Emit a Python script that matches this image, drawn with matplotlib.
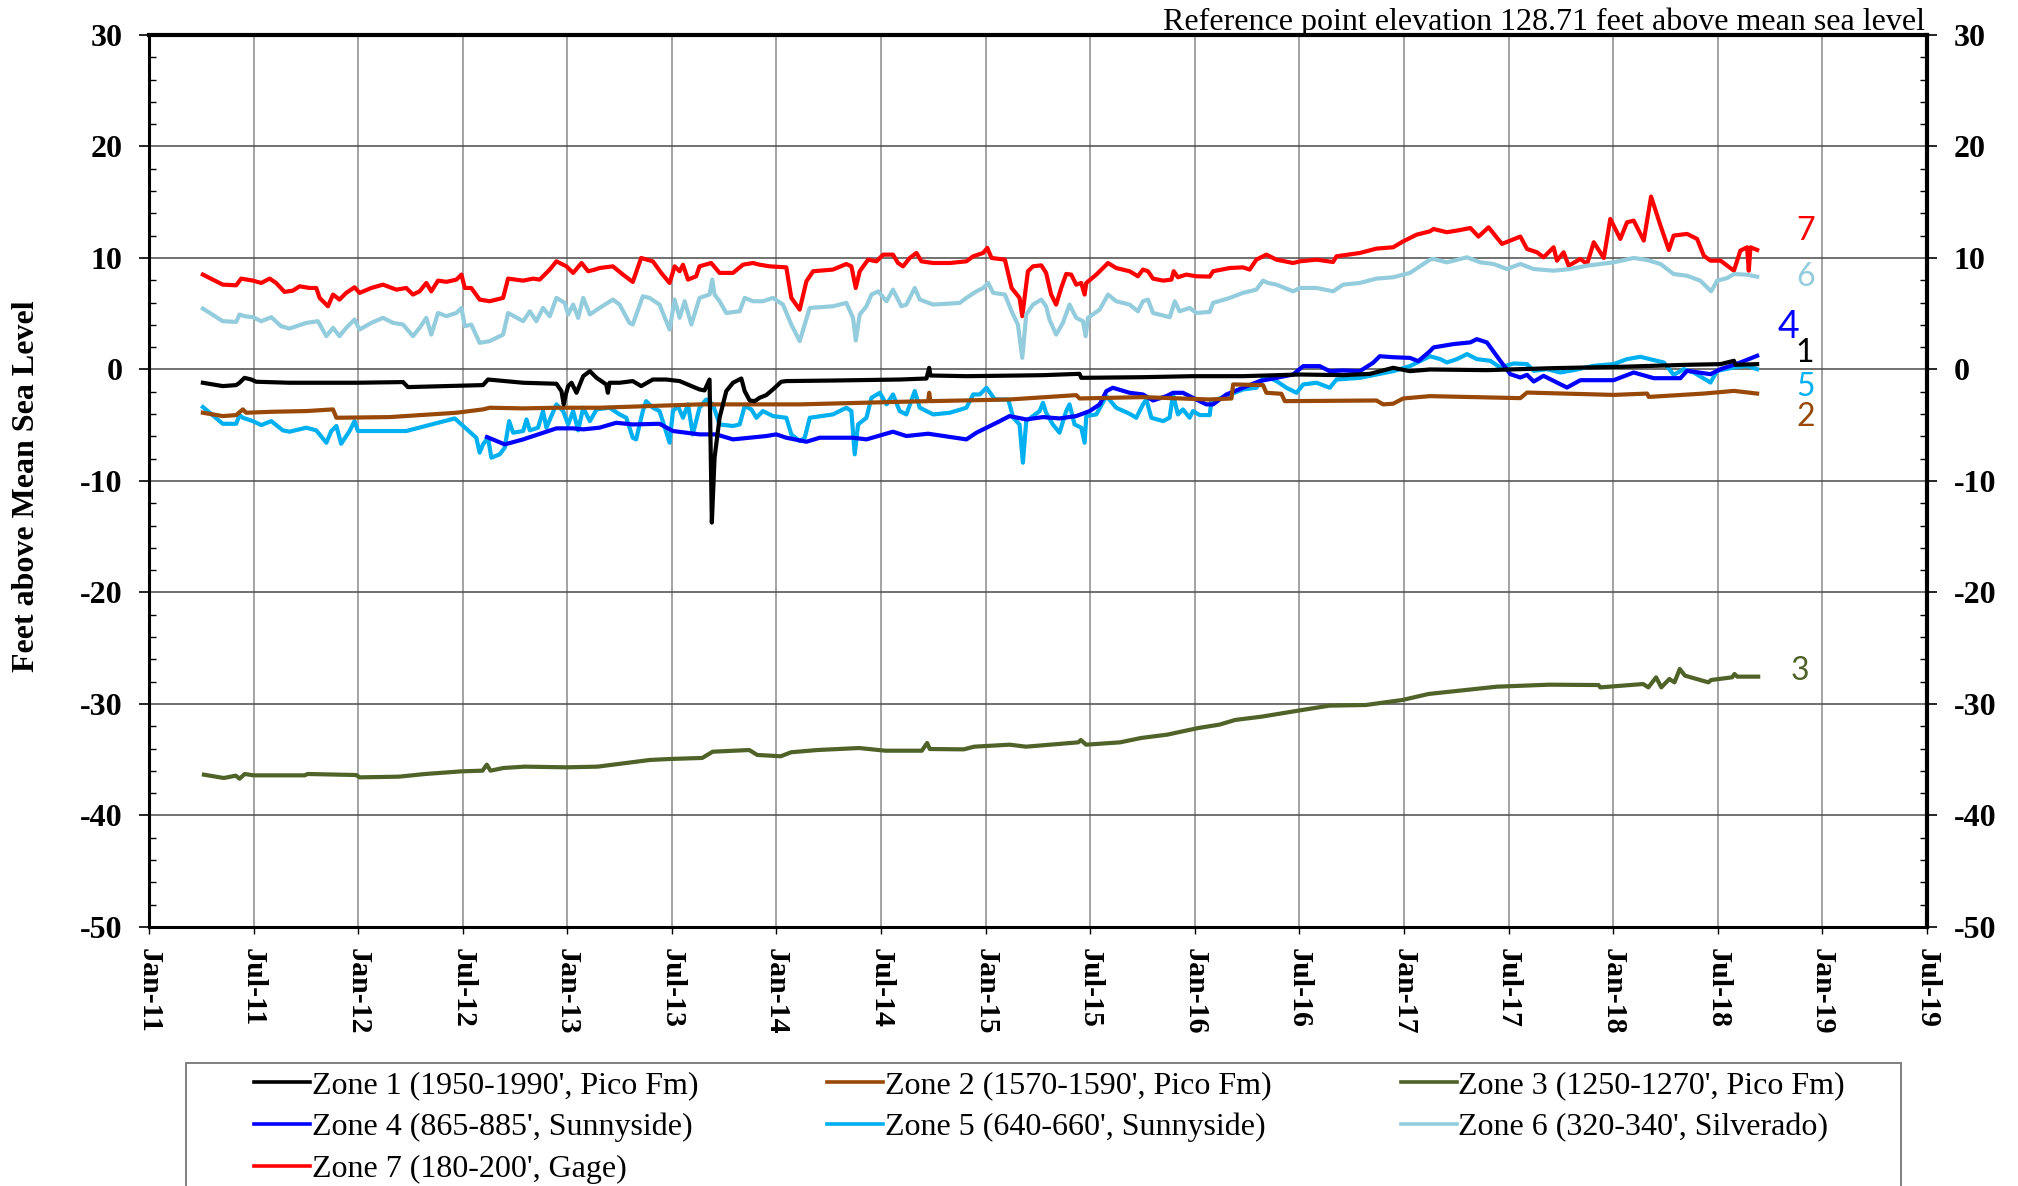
import numpy as np
import matplotlib
matplotlib.use("Agg")
import matplotlib.pyplot as plt
from matplotlib.patches import Rectangle
from matplotlib.ticker import MultipleLocator

plt.rcParams["axes.unicode_minus"] = False

# water level records for the seven monitored zones, time in decimal years
t1 = [2011.258, 2011.353, 2011.417, 2011.433, 2011.457, 2011.489, 2011.513, 2011.672, 2011.991, 2012.215,
      2012.238, 2012.597, 2012.621, 2012.789, 2012.948, 2012.972, 2012.983, 2012.993, 2013.004, 2013.020,
      2013.044, 2013.076, 2013.108, 2013.140, 2013.186, 2013.194, 2013.202, 2013.250, 2013.313, 2013.353,
      2013.409, 2013.473, 2013.537, 2013.632, 2013.656, 2013.680, 2013.691, 2013.704, 2013.728, 2013.760,
      2013.792, 2013.832, 2013.848, 2013.872, 2013.896, 2013.919, 2013.951, 2013.983, 2014.023, 2014.047,
      2014.270, 2014.589, 2014.717, 2014.730, 2014.736, 2014.908, 2015.163, 2015.274, 2015.449, 2015.457,
      2015.752, 2015.991, 2016.230, 2016.502, 2016.709, 2016.837, 2016.948, 2017.028, 2017.124, 2017.396,
      2017.715, 2018.034, 2018.353, 2018.513, 2018.577, 2018.585, 2018.688]
z1 = [-1.19, -1.49, -1.40, -1.19, -0.75, -0.90, -1.10, -1.19, -1.19, -1.13,
      -1.58, -1.40, -0.90, -1.19, -1.28, -1.94, -3.13, -2.24, -1.49, -1.19,
      -2.09, -0.60, -0.15, -0.75, -1.34, -2.09, -1.19, -1.19, -1.04, -1.49,
      -0.90, -0.90, -1.04, -1.79, -1.88, -0.90, -13.73, -7.91, -4.33, -1.94,
      -1.19, -0.81, -1.94, -2.78, -2.84, -2.54, -2.30, -1.79, -1.10, -1.04,
      -0.99, -0.90, -0.81, 0.15, -0.54, -0.60, -0.54, -0.51, -0.39, -0.75,
      -0.69, -0.60, -0.60, -0.45, -0.51, -0.39, 0.15, -0.15, 0.00, -0.06,
      0.12, 0.24, 0.42, 0.48, 0.78, 0.42, 0.48]

t2 = [2011.258, 2011.353, 2011.417, 2011.449, 2011.465, 2011.593, 2011.752, 2011.880, 2011.896, 2012.151,
      2012.470, 2012.597, 2012.629, 2012.789, 2012.948, 2013.154, 2013.632, 2014.111, 2014.589, 2014.725,
      2014.730, 2014.736, 2015.114, 2015.433, 2015.449, 2015.752, 2016.071, 2016.175, 2016.183, 2016.326,
      2016.342, 2016.414, 2016.430, 2016.868, 2016.900, 2016.948, 2016.996, 2017.124, 2017.556, 2017.588,
      2018.002, 2018.162, 2018.170, 2018.433, 2018.577, 2018.688]
z2 = [-3.88, -4.18, -4.09, -3.58, -3.88, -3.79, -3.73, -3.58, -4.33, -4.27,
      -3.88, -3.58, -3.43, -3.49, -3.43, -3.43, -3.13, -3.13, -2.90, -2.84,
      -2.09, -2.84, -2.69, -2.30, -2.60, -2.48, -2.69, -2.60, -1.34, -1.40,
      -2.09, -2.18, -2.84, -2.78, -3.13, -3.07, -2.60, -2.39, -2.57, -2.07,
      -2.28, -2.16, -2.46, -2.16, -1.92, -2.16]

t3 = [2011.263, 2011.358, 2011.415, 2011.433, 2011.458, 2011.500, 2011.745, 2011.758, 2011.990, 2012.008,
      2012.195, 2012.320, 2012.495, 2012.595, 2012.615, 2012.633, 2012.695, 2012.795, 2012.995, 2013.145,
      2013.270, 2013.395, 2013.495, 2013.645, 2013.695, 2013.870, 2013.908, 2014.020, 2014.070, 2014.195,
      2014.395, 2014.520, 2014.695, 2014.720, 2014.733, 2014.895, 2014.945, 2015.115, 2015.193, 2015.443,
      2015.455, 2015.480, 2015.643, 2015.743, 2015.868, 2016.018, 2016.118, 2016.193, 2016.318, 2016.493,
      2016.643, 2016.818, 2016.993, 2017.118, 2017.268, 2017.443, 2017.693, 2017.930, 2017.938, 2018.143,
      2018.168, 2018.205, 2018.230, 2018.268, 2018.293, 2018.318, 2018.343, 2018.455, 2018.468, 2018.568,
      2018.580, 2018.593, 2018.693]
z3 = [-36.34, -36.64, -36.43, -36.70, -36.28, -36.40, -36.40, -36.28, -36.37, -36.58,
      -36.52, -36.28, -36.04, -35.98, -35.44, -35.98, -35.74, -35.62, -35.68, -35.62,
      -35.32, -35.02, -34.93, -34.84, -34.28, -34.13, -34.57, -34.69, -34.33, -34.13,
      -33.95, -34.19, -34.19, -33.50, -34.04, -34.07, -33.83, -33.65, -33.83, -33.44,
      -33.23, -33.65, -33.44, -33.05, -32.75, -32.15, -31.85, -31.43, -31.14, -30.60,
      -30.15, -30.09, -29.64, -29.10, -28.80, -28.45, -28.27, -28.30, -28.51, -28.21,
      -28.51, -27.61, -28.51, -27.76, -28.06, -26.86, -27.46, -28.06, -27.85, -27.61,
      -27.31, -27.55, -27.55]

t4 = [2012.616, 2012.701, 2012.789, 2012.948, 2013.028, 2013.076, 2013.154, 2013.234, 2013.313, 2013.441,
      2013.505, 2013.632, 2013.712, 2013.792, 2013.951, 2013.999, 2014.047, 2014.143, 2014.207, 2014.366,
      2014.430, 2014.557, 2014.621, 2014.725, 2014.908, 2014.956, 2015.068, 2015.114, 2015.194, 2015.274,
      2015.353, 2015.433, 2015.497, 2015.545, 2015.577, 2015.608, 2015.688, 2015.752, 2015.800, 2015.864,
      2015.896, 2015.943, 2015.991, 2016.023, 2016.055, 2016.087, 2016.151, 2016.230, 2016.310, 2016.390,
      2016.470, 2016.518, 2016.597, 2016.645, 2016.709, 2016.789, 2016.852, 2016.884, 2016.948, 2017.028,
      2017.068, 2017.124, 2017.141, 2017.237, 2017.317, 2017.348, 2017.396, 2017.460, 2017.508, 2017.556,
      2017.588, 2017.620, 2017.667, 2017.715, 2017.779, 2017.843, 2018.002, 2018.098, 2018.194, 2018.321,
      2018.353, 2018.465, 2018.513, 2018.608, 2018.688]
z4 = [-6.06, -6.72, -6.27, -5.28, -5.28, -5.37, -5.22, -4.78, -4.93, -4.87,
      -5.52, -5.82, -5.82, -6.27, -5.97, -5.82, -6.12, -6.48, -6.12, -6.12,
      -6.27, -5.58, -5.97, -5.76, -6.27, -5.67, -4.63, -4.18, -4.48, -4.27,
      -4.39, -4.18, -3.73, -3.13, -1.94, -1.64, -2.09, -2.24, -2.78, -2.39,
      -2.09, -2.09, -2.54, -2.84, -3.13, -3.13, -2.24, -1.64, -1.04, -0.75,
      -0.45, 0.30, 0.30, -0.15, -0.09, -0.15, 0.60, 1.19, 1.10, 1.04,
      0.75, 1.64, 1.98, 2.28, 2.43, 2.72, 2.43, 0.78, -0.42, -0.72,
      -0.48, -1.08, -0.57, -1.02, -1.62, -0.96, -0.96, -0.27, -0.78, -0.78,
      -0.12, -0.42, 0.03, 0.63, 1.23]

t5 = [2011.258, 2011.353, 2011.417, 2011.433, 2011.449, 2011.497, 2011.537, 2011.585, 2011.640, 2011.672,
      2011.752, 2011.800, 2011.848, 2011.872, 2011.896, 2011.919, 2011.959, 2011.983, 2011.999, 2012.230,
      2012.462, 2012.565, 2012.581, 2012.597, 2012.621, 2012.637, 2012.677, 2012.701, 2012.722, 2012.741,
      2012.789, 2012.805, 2012.821, 2012.860, 2012.884, 2012.900, 2012.948, 2012.980, 2013.004, 2013.028,
      2013.052, 2013.076, 2013.108, 2013.140, 2013.202, 2013.250, 2013.282, 2013.313, 2013.329, 2013.361,
      2013.377, 2013.409, 2013.441, 2013.489, 2013.505, 2013.529, 2013.553, 2013.577, 2013.600, 2013.632,
      2013.664, 2013.696, 2013.728, 2013.792, 2013.824, 2013.848, 2013.880, 2013.904, 2013.935, 2013.983,
      2014.047, 2014.071, 2014.111, 2014.135, 2014.159, 2014.270, 2014.334, 2014.358, 2014.374, 2014.390,
      2014.430, 2014.454, 2014.494, 2014.526, 2014.557, 2014.589, 2014.621, 2014.661, 2014.685, 2014.749,
      2014.829, 2014.908, 2014.940, 2014.972, 2015.004, 2015.044, 2015.108, 2015.132, 2015.162, 2015.178,
      2015.194, 2015.258, 2015.274, 2015.289, 2015.321, 2015.353, 2015.385, 2015.401, 2015.425, 2015.457,
      2015.473, 2015.481, 2015.529, 2015.577, 2015.624, 2015.688, 2015.720, 2015.752, 2015.768, 2015.792,
      2015.848, 2015.879, 2015.896, 2015.919, 2015.943, 2015.975, 2015.991, 2016.023, 2016.071, 2016.079,
      2016.151, 2016.230, 2016.294, 2016.326, 2016.358, 2016.390, 2016.438, 2016.486, 2016.518, 2016.582,
      2016.645, 2016.677, 2016.789, 2016.868, 2016.948, 2017.028, 2017.124, 2017.173, 2017.205, 2017.253,
      2017.301, 2017.348, 2017.412, 2017.460, 2017.524, 2017.588, 2017.620, 2017.683, 2017.747, 2017.811,
      2017.907, 2018.002, 2018.066, 2018.130, 2018.194, 2018.242, 2018.289, 2018.337, 2018.385, 2018.465,
      2018.497, 2018.577, 2018.640, 2018.688]
z5 = [-3.37, -4.87, -4.87, -4.09, -4.33, -4.63, -4.99, -4.63, -5.46, -5.58,
      -5.22, -5.46, -6.57, -5.52, -5.07, -6.66, -5.52, -4.63, -5.52, -5.52,
      -4.39, -6.12, -7.46, -6.72, -6.12, -7.91, -7.61, -7.01, -4.63, -5.67,
      -5.52, -4.48, -5.46, -5.22, -3.73, -5.22, -3.13, -3.73, -4.93, -3.73,
      -5.46, -3.43, -4.63, -3.58, -3.43, -4.03, -4.33, -6.12, -6.27, -3.73,
      -2.84, -3.43, -3.73, -6.57, -3.73, -3.28, -4.33, -3.13, -5.82, -3.43,
      -2.69, -3.13, -4.93, -5.07, -4.93, -3.28, -3.58, -4.33, -3.73, -4.18,
      -4.33, -5.82, -6.42, -6.12, -4.33, -4.03, -3.43, -3.73, -7.61, -4.93,
      -4.33, -2.54, -2.09, -3.13, -2.24, -3.73, -4.03, -1.94, -3.43, -4.03,
      -3.88, -3.43, -2.24, -2.24, -1.64, -2.69, -2.69, -4.33, -4.93, -8.36,
      -4.63, -3.73, -2.99, -3.88, -4.93, -5.67, -3.73, -3.13, -4.93, -5.22,
      -6.57, -4.18, -4.03, -2.39, -3.43, -3.97, -4.33, -3.13, -2.69, -4.33,
      -4.63, -4.33, -2.24, -4.03, -3.58, -4.33, -3.73, -4.09, -4.09, -2.84,
      -2.39, -1.79, -1.64, -0.75, -0.75, -1.04, -1.64, -2.09, -1.34, -1.19,
      -1.64, -0.90, -0.75, -0.45, -0.15, 0.30, 1.19, 0.93, 0.63, 0.93,
      1.38, 0.93, 0.78, 0.18, 0.54, 0.48, -0.12, 0.03, -0.27, -0.06,
      0.33, 0.48, 0.93, 1.14, 0.84, 0.63, -0.48, 0.03, -0.27, -1.17,
      -0.12, 0.18, 0.33, 0.03]

t6 = [2011.258, 2011.353, 2011.417, 2011.433, 2011.457, 2011.497, 2011.537, 2011.585, 2011.632, 2011.672,
      2011.752, 2011.808, 2011.848, 2011.880, 2011.911, 2011.943, 2011.983, 2012.007, 2012.063, 2012.119,
      2012.167, 2012.215, 2012.262, 2012.294, 2012.326, 2012.350, 2012.382, 2012.422, 2012.470, 2012.494,
      2012.510, 2012.541, 2012.581, 2012.629, 2012.693, 2012.717, 2012.789, 2012.821, 2012.852, 2012.884,
      2012.916, 2012.948, 2012.988, 2013.004, 2013.028, 2013.052, 2013.076, 2013.108, 2013.154, 2013.218,
      2013.250, 2013.297, 2013.313, 2013.361, 2013.393, 2013.441, 2013.489, 2013.513, 2013.537, 2013.561,
      2013.593, 2013.632, 2013.680, 2013.693, 2013.704, 2013.728, 2013.760, 2013.824, 2013.848, 2013.888,
      2013.935, 2013.983, 2014.031, 2014.071, 2014.111, 2014.135, 2014.159, 2014.270, 2014.334, 2014.366,
      2014.379, 2014.398, 2014.430, 2014.454, 2014.486, 2014.526, 2014.557, 2014.597, 2014.621, 2014.661,
      2014.685, 2014.749, 2014.876, 2014.908, 2014.956, 2014.988, 2015.012, 2015.036, 2015.092, 2015.124,
      2015.154, 2015.175, 2015.194, 2015.226, 2015.266, 2015.289, 2015.305, 2015.337, 2015.369, 2015.401,
      2015.433, 2015.465, 2015.478, 2015.489, 2015.545, 2015.585, 2015.624, 2015.688, 2015.728, 2015.752,
      2015.776, 2015.800, 2015.880, 2015.904, 2015.927, 2015.975, 2016.007, 2016.071, 2016.087, 2016.167,
      2016.230, 2016.294, 2016.326, 2016.350, 2016.390, 2016.470, 2016.502, 2016.582, 2016.661, 2016.709,
      2016.789, 2016.868, 2016.948, 2017.028, 2017.076, 2017.124, 2017.141, 2017.205, 2017.301, 2017.364,
      2017.428, 2017.492, 2017.556, 2017.620, 2017.715, 2017.795, 2017.875, 2018.002, 2018.098, 2018.162,
      2018.226, 2018.289, 2018.353, 2018.417, 2018.468, 2018.497, 2018.545, 2018.577, 2018.640, 2018.688]
z6 = [5.46, 4.33, 4.27, 4.93, 4.78, 4.69, 4.33, 4.69, 3.88, 3.67,
      4.18, 4.33, 2.99, 3.73, 2.99, 3.73, 4.48, 3.58, 4.18, 4.63,
      4.18, 4.03, 2.99, 3.73, 4.63, 3.13, 5.07, 4.78, 5.07, 5.52,
      3.88, 4.03, 2.39, 2.54, 3.13, 5.07, 4.33, 5.22, 4.33, 5.52,
      4.78, 6.42, 5.97, 4.93, 5.82, 4.63, 6.42, 4.93, 5.52, 6.27,
      5.82, 4.18, 4.03, 6.57, 6.42, 5.82, 3.58, 6.27, 4.63, 6.12,
      4.03, 6.42, 6.72, 8.06, 6.72, 6.12, 5.07, 5.22, 6.42, 6.12,
      6.12, 6.42, 5.82, 4.03, 2.54, 4.03, 5.52, 5.67, 5.97, 4.63,
      2.60, 4.93, 5.67, 6.72, 7.01, 6.12, 7.16, 5.67, 5.82, 7.31,
      6.27, 5.82, 5.97, 6.42, 7.01, 7.31, 7.76, 6.87, 6.72, 5.22,
      4.03, 1.04, 4.93, 5.82, 6.27, 5.67, 4.48, 3.13, 4.18, 5.82,
      4.63, 4.33, 2.99, 4.63, 5.37, 6.72, 6.12, 5.82, 5.22, 6.12,
      6.27, 5.07, 4.69, 6.12, 5.22, 5.52, 5.07, 5.16, 5.97, 6.42,
      6.87, 7.16, 7.97, 7.76, 7.61, 7.01, 7.31, 7.31, 7.01, 7.61,
      7.76, 8.15, 8.27, 8.66, 9.25, 9.85, 9.91, 9.61, 10.06, 9.61,
      9.46, 9.01, 9.46, 9.01, 8.86, 9.01, 9.31, 9.61, 10.00, 9.82,
      9.46, 8.56, 8.41, 7.96, 7.01, 7.96, 8.20, 8.56, 8.50, 8.32]

t7 = [2011.258, 2011.353, 2011.417, 2011.441, 2011.497, 2011.537, 2011.577, 2011.608, 2011.648, 2011.688,
      2011.720, 2011.768, 2011.800, 2011.816, 2011.856, 2011.880, 2011.911, 2011.943, 2011.983, 2012.007,
      2012.063, 2012.119, 2012.183, 2012.230, 2012.262, 2012.294, 2012.326, 2012.350, 2012.382, 2012.422,
      2012.470, 2012.494, 2012.510, 2012.541, 2012.581, 2012.629, 2012.693, 2012.717, 2012.789, 2012.837,
      2012.868, 2012.916, 2012.948, 2012.996, 2013.028, 2013.068, 2013.100, 2013.132, 2013.154, 2013.218,
      2013.266, 2013.313, 2013.353, 2013.409, 2013.449, 2013.489, 2013.513, 2013.537, 2013.553, 2013.577,
      2013.616, 2013.632, 2013.688, 2013.728, 2013.792, 2013.840, 2013.888, 2013.919, 2013.967, 2014.047,
      2014.071, 2014.111, 2014.143, 2014.175, 2014.270, 2014.334, 2014.358, 2014.379, 2014.398, 2014.438,
      2014.478, 2014.510, 2014.557, 2014.581, 2014.605, 2014.637, 2014.669, 2014.693, 2014.749, 2014.829,
      2014.908, 2014.940, 2014.988, 2015.008, 2015.028, 2015.092, 2015.124, 2015.162, 2015.175, 2015.186,
      2015.202, 2015.226, 2015.266, 2015.289, 2015.313, 2015.337, 2015.361, 2015.385, 2015.409, 2015.433,
      2015.457, 2015.473, 2015.481, 2015.529, 2015.585, 2015.624, 2015.688, 2015.728, 2015.752, 2015.776,
      2015.800, 2015.848, 2015.888, 2015.899, 2015.919, 2015.959, 2016.007, 2016.071, 2016.087, 2016.167,
      2016.230, 2016.262, 2016.294, 2016.342, 2016.390, 2016.470, 2016.502, 2016.582, 2016.661, 2016.677,
      2016.789, 2016.868, 2016.948, 2016.996, 2017.060, 2017.124, 2017.141, 2017.205, 2017.269, 2017.317,
      2017.356, 2017.404, 2017.468, 2017.508, 2017.556, 2017.588, 2017.636, 2017.667, 2017.715, 2017.731,
      2017.763, 2017.787, 2017.843, 2017.875, 2017.907, 2017.955, 2017.986, 2018.034, 2018.066, 2018.098,
      2018.146, 2018.181, 2018.226, 2018.266, 2018.289, 2018.353, 2018.401, 2018.433, 2018.465, 2018.513,
      2018.577, 2018.608, 2018.640, 2018.648, 2018.656, 2018.688]
z7 = [8.51, 7.61, 7.55, 8.15, 7.97, 7.76, 8.15, 7.76, 6.96, 7.07,
      7.46, 7.31, 7.31, 6.42, 5.67, 6.72, 6.27, 6.87, 7.37, 6.87,
      7.31, 7.61, 7.16, 7.31, 6.72, 7.01, 7.76, 7.01, 7.97, 7.86,
      8.06, 8.51, 7.31, 7.31, 6.27, 6.12, 6.42, 8.15, 7.97, 8.15,
      8.06, 8.96, 9.70, 9.25, 8.66, 9.55, 8.81, 8.96, 9.10, 9.25,
      8.51, 7.85, 10.00, 9.70, 8.66, 7.76, 9.25, 8.81, 9.40, 8.06,
      8.36, 9.25, 9.55, 8.66, 8.66, 9.40, 9.55, 9.40, 9.25, 9.16,
      6.42, 5.37, 7.91, 8.81, 8.96, 9.46, 9.25, 7.31, 8.81, 9.85,
      9.70, 10.30, 10.30, 9.55, 9.25, 10.00, 10.45, 9.70, 9.55, 9.55,
      9.70, 10.15, 10.45, 10.90, 10.00, 9.85, 7.31, 6.42, 4.78, 6.42,
      8.81, 9.25, 9.34, 8.66, 6.72, 5.82, 7.31, 8.57, 8.51, 7.61,
      7.76, 6.72, 7.76, 8.51, 9.55, 9.10, 8.81, 8.36, 8.96, 8.81,
      8.15, 7.97, 8.06, 8.81, 8.27, 8.51, 8.36, 8.33, 8.81, 9.10,
      9.16, 8.96, 9.85, 10.30, 9.85, 9.55, 9.70, 9.85, 9.64, 10.15,
      10.45, 10.84, 10.96, 11.49, 12.09, 12.39, 12.60, 12.31, 12.51, 12.69,
      11.92, 12.75, 11.26, 11.56, 11.92, 10.81, 10.51, 10.06, 10.96, 9.76,
      10.51, 9.31, 9.91, 9.46, 11.41, 10.00, 13.50, 11.71, 13.20, 13.35,
      11.56, 15.51, 12.90, 10.72, 12.01, 12.16, 11.71, 10.21, 9.76, 9.76,
      8.86, 10.66, 10.96, 8.86, 10.96, 10.72]

zone_names = ["Zone 1 (1950-1990', Pico Fm)", "Zone 2 (1570-1590', Pico Fm)",
              "Zone 3 (1250-1270', Pico Fm)", "Zone 4 (865-885', Sunnyside)",
              "Zone 5 (640-660', Sunnyside)", "Zone 6 (320-340', Silverado)",
              "Zone 7 (180-200', Gage)"]
zone_colors = ["#000000", "#984807", "#4f6228", "#0000ff", "#00b0f0", "#93cddd", "#ff0000"]
zone_tags = ["1", "2", "3", "4", "5", "6", "7"]
tag_x = [2018.915, 2018.92, 2018.89, 2018.84, 2018.92, 2018.92, 2018.92]
tag_y = [1.5, -4.25, -27.0, 3.85, -1.55, 8.3, 12.4]

tick_pos = np.arange(2011.0, 2019.51, 0.5)
tick_lab = []
for yr in range(11, 20):
    tick_lab.append("Jan-%d" % yr)
    tick_lab.append("Jul-%d" % yr)

serif = "Liberation Serif"

fig = plt.figure(figsize=(20.18, 11.86), dpi=100)
ax = fig.add_axes([0.0738, 0.2184, 0.8811, 0.7521])

times = [t1, t2, t3, t4, t5, t6, t7]
levels = [z1, z2, z3, z4, z5, z6, z7]
lines = []
# zone 7 first so the deeper zones sit on top
for i in range(6, -1, -1):
    ln, = ax.plot(times[i], levels[i], color=zone_colors[i], lw=3.0,
                  solid_joinstyle="round", zorder=3 + (6 - i) * 0.1)
    lines.insert(0, ln)

for i in range(7):
    fs = 27 if zone_tags[i] == "4" else 23
    ax.text(tag_x[i], tag_y[i], zone_tags[i], color=zone_colors[i], fontsize=fs,
            family="Lato", ha="center", va="center")

ax.set_xlim(2011.0, 2019.5)
ax.set_ylim(-50, 30)
ax.set_xticks(tick_pos)
ax.set_xticklabels(tick_lab, rotation=270, fontsize=21.5, fontweight="bold", family=serif)
ax.yaxis.set_major_locator(MultipleLocator(10))
ax.yaxis.set_minor_locator(MultipleLocator(2))
ax.tick_params(axis="y", which="major", direction="out", length=7, width=1.2,
               left=True, right=True, labelleft=True, labelright=True, pad=12)
ax.tick_params(axis="y", which="minor", direction="in", length=5, width=1.0,
               left=True, right=True)
ax.tick_params(axis="x", which="major", direction="out", length=5, width=1.0, pad=10)
for t in ax.yaxis.get_major_ticks():
    for lab in (t.label1, t.label2):
        lab.set_fontsize(23)
        lab.set_fontweight("bold")
        lab.set_family(serif)

ax.xaxis.grid(True, color="#8a8a8a", lw=1.1)
ax.yaxis.grid(True, color="#4a4a4a", lw=1.1)
ax.set_axisbelow(True)
for side in ["left", "bottom"]:
    ax.spines[side].set_linewidth(2.2)
for side in ["top", "right"]:
    ax.spines[side].set_linewidth(3.0)

fig.text(0.013, 0.590, "Feet above Mean Sea Level", rotation=90, ha="center", va="center",
         fontsize=23, fontweight="bold", family=serif)
fig.text(0.9537, 1 - 30 / 1186, "Reference point elevation 128.71 feet above mean sea level",
         ha="right", va="baseline", fontsize=23, family=serif)

# legend box runs off the bottom edge of the page
fig.patches.append(Rectangle((0.0922, -0.05), 0.8498, 0.1537, transform=fig.transFigure,
                             facecolor="none", edgecolor="#7f7f7f", lw=1.4))
order = [0, 3, 6, 1, 4, 2, 5]
leg = fig.legend([lines[i] for i in order], [zone_names[i] for i in order],
                 loc="upper left", bbox_to_anchor=(0.1259, 0.0975), ncol=3,
                 frameon=False, borderpad=0, borderaxespad=0, handlelength=1.75,
                 handletextpad=0.05, columnspacing=4.05, labelspacing=0.40,
                 prop={"family": serif, "size": 23})
for h in leg.legend_handles:
    h.set_linewidth(2.6)

fig.savefig("out.png", dpi=100)
